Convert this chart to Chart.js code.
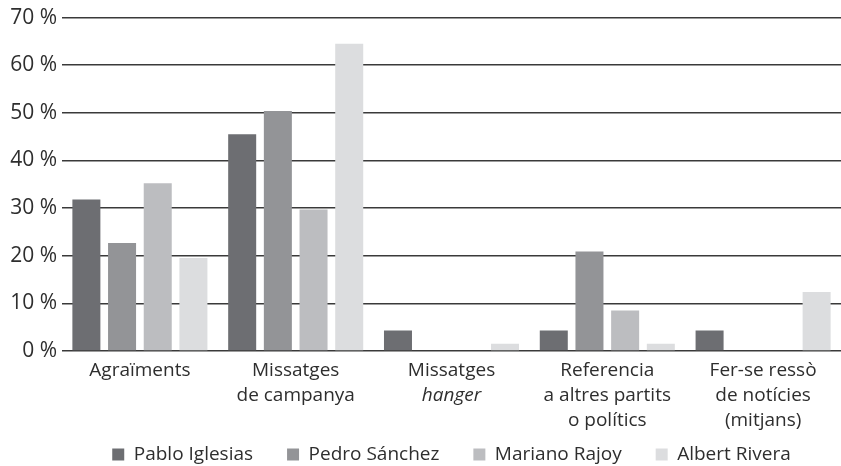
<!DOCTYPE html>
<html>
<head>
<meta charset="utf-8">
<script src="https://cdn.jsdelivr.net/npm/chart.js@4"></script>
<style>
  html, body { margin: 0; padding: 0; background: #fff; }
  #wrap { width: 841px; height: 466px; }
</style>
</head>
<body>
<div id="wrap"><canvas id="chart"></canvas></div>
<script>
// Categories (each entry is the lines of the label)
const categories = [
    ['Agraïments'],
    ['Missatges', 'de campanya'],
    ['Missatges', 'hanger'],
    ['Referencia', 'a altres partits', 'o polítics'],
    ['Fer-se ressò', 'de notícies', '(mitjans)']
];
const italicWords = ['hanger'];

const seriesNames = ['Pablo Iglesias', 'Pedro Sánchez', 'Mariano Rajoy', 'Albert Rivera'];
const pabloIglesias = [31.8, 45.5, 4.3, 4.3, 4.3];
const pedroSanchez  = [22.7, 50.4, 0, 20.9, 0];
const marianoRajoy  = [35.2, 29.7, 0, 8.5, 0];
const albertRivera  = [19.5, 64.5, 1.5, 1.5, 12.4];

const yTicks = [0, 10, 20, 30, 40, 50, 60, 70];

const colors = ['#6d6e72', '#939497', '#bcbdc0', '#dcdddf'];
const textColor = '#2e2e2e';
const fontFamily = "'Open Sans', sans-serif";
const fontSize = 19;
const lineH = 25;

Chart.defaults.font.family = fontFamily;
Chart.defaults.font.size = fontSize;
Chart.defaults.color = textColor;

// Draw x labels ourselves so one line can be italic
const xLabelPlugin = {
    id: 'xLabels',
    afterDraw(chart) {
        const ctx = chart.ctx;
        const xs = chart.scales.x;
        ctx.save();
        ctx.fillStyle = textColor;
        ctx.textAlign = 'center';
        ctx.textBaseline = 'middle';
        categories.forEach((lines, i) => {
            const x = xs.getPixelForValue(i);
            lines.forEach((line, j) => {
                const italic = italicWords.includes(line);
                ctx.font = (italic ? 'italic ' : '') + fontSize + 'px ' + fontFamily;
                ctx.fillText(line, x, xs.top + 7 + lineH * (j + 0.5));
            });
        });
        ctx.restore();
    }
};

const seriesData = [pabloIglesias, pedroSanchez, marianoRajoy, albertRivera];

new Chart(document.getElementById('chart'), {
    type: 'bar',
    data: {
        labels: categories,
        datasets: seriesNames.map((name, k) => ({
            label: name,
            data: seriesData[k],
            backgroundColor: colors[k],
            borderWidth: 0,
            barPercentage: 0.785,
            categoryPercentage: 0.916
        }))
    },
    options: {
        responsive: true,
        maintainAspectRatio: false,
        animation: false,
        layout: { padding: { top: 14, right: 0, left: 0, bottom: -8 } },
        plugins: {
            legend: {
                position: 'bottom',
                fullSize: false,
                labels: {
                    boxWidth: 12,
                    boxHeight: 12,
                    padding: 34,
                    color: textColor,
                    font: { size: fontSize, family: fontFamily }
                }
            },
            tooltip: { enabled: false }
        },
        scales: {
            x: {
                grid: { display: false },
                border: { display: false },
                afterFit(scale) { scale.height = 60; },
                ticks: {
                    display: false,
                    maxRotation: 0,
                    autoSkip: false
                }
            },
            y: {
                min: 0,
                max: 70,
                afterBuildTicks(scale) {
                    scale.ticks = yTicks.map(v => ({ value: v }));
                },
                afterFit(scale) { scale.width = 62; },
                grid: {
                    color: '#3a3a3a',
                    lineWidth: 1.5,
                    drawTicks: false
                },
                border: { display: false },
                ticks: {
                    padding: 5,
                    color: textColor,
                    font: { size: 21, family: fontFamily },
                    callback: v => v + ' %'
                }
            }
        }
    },
    plugins: [xLabelPlugin]
});
</script>
</body>
</html>
